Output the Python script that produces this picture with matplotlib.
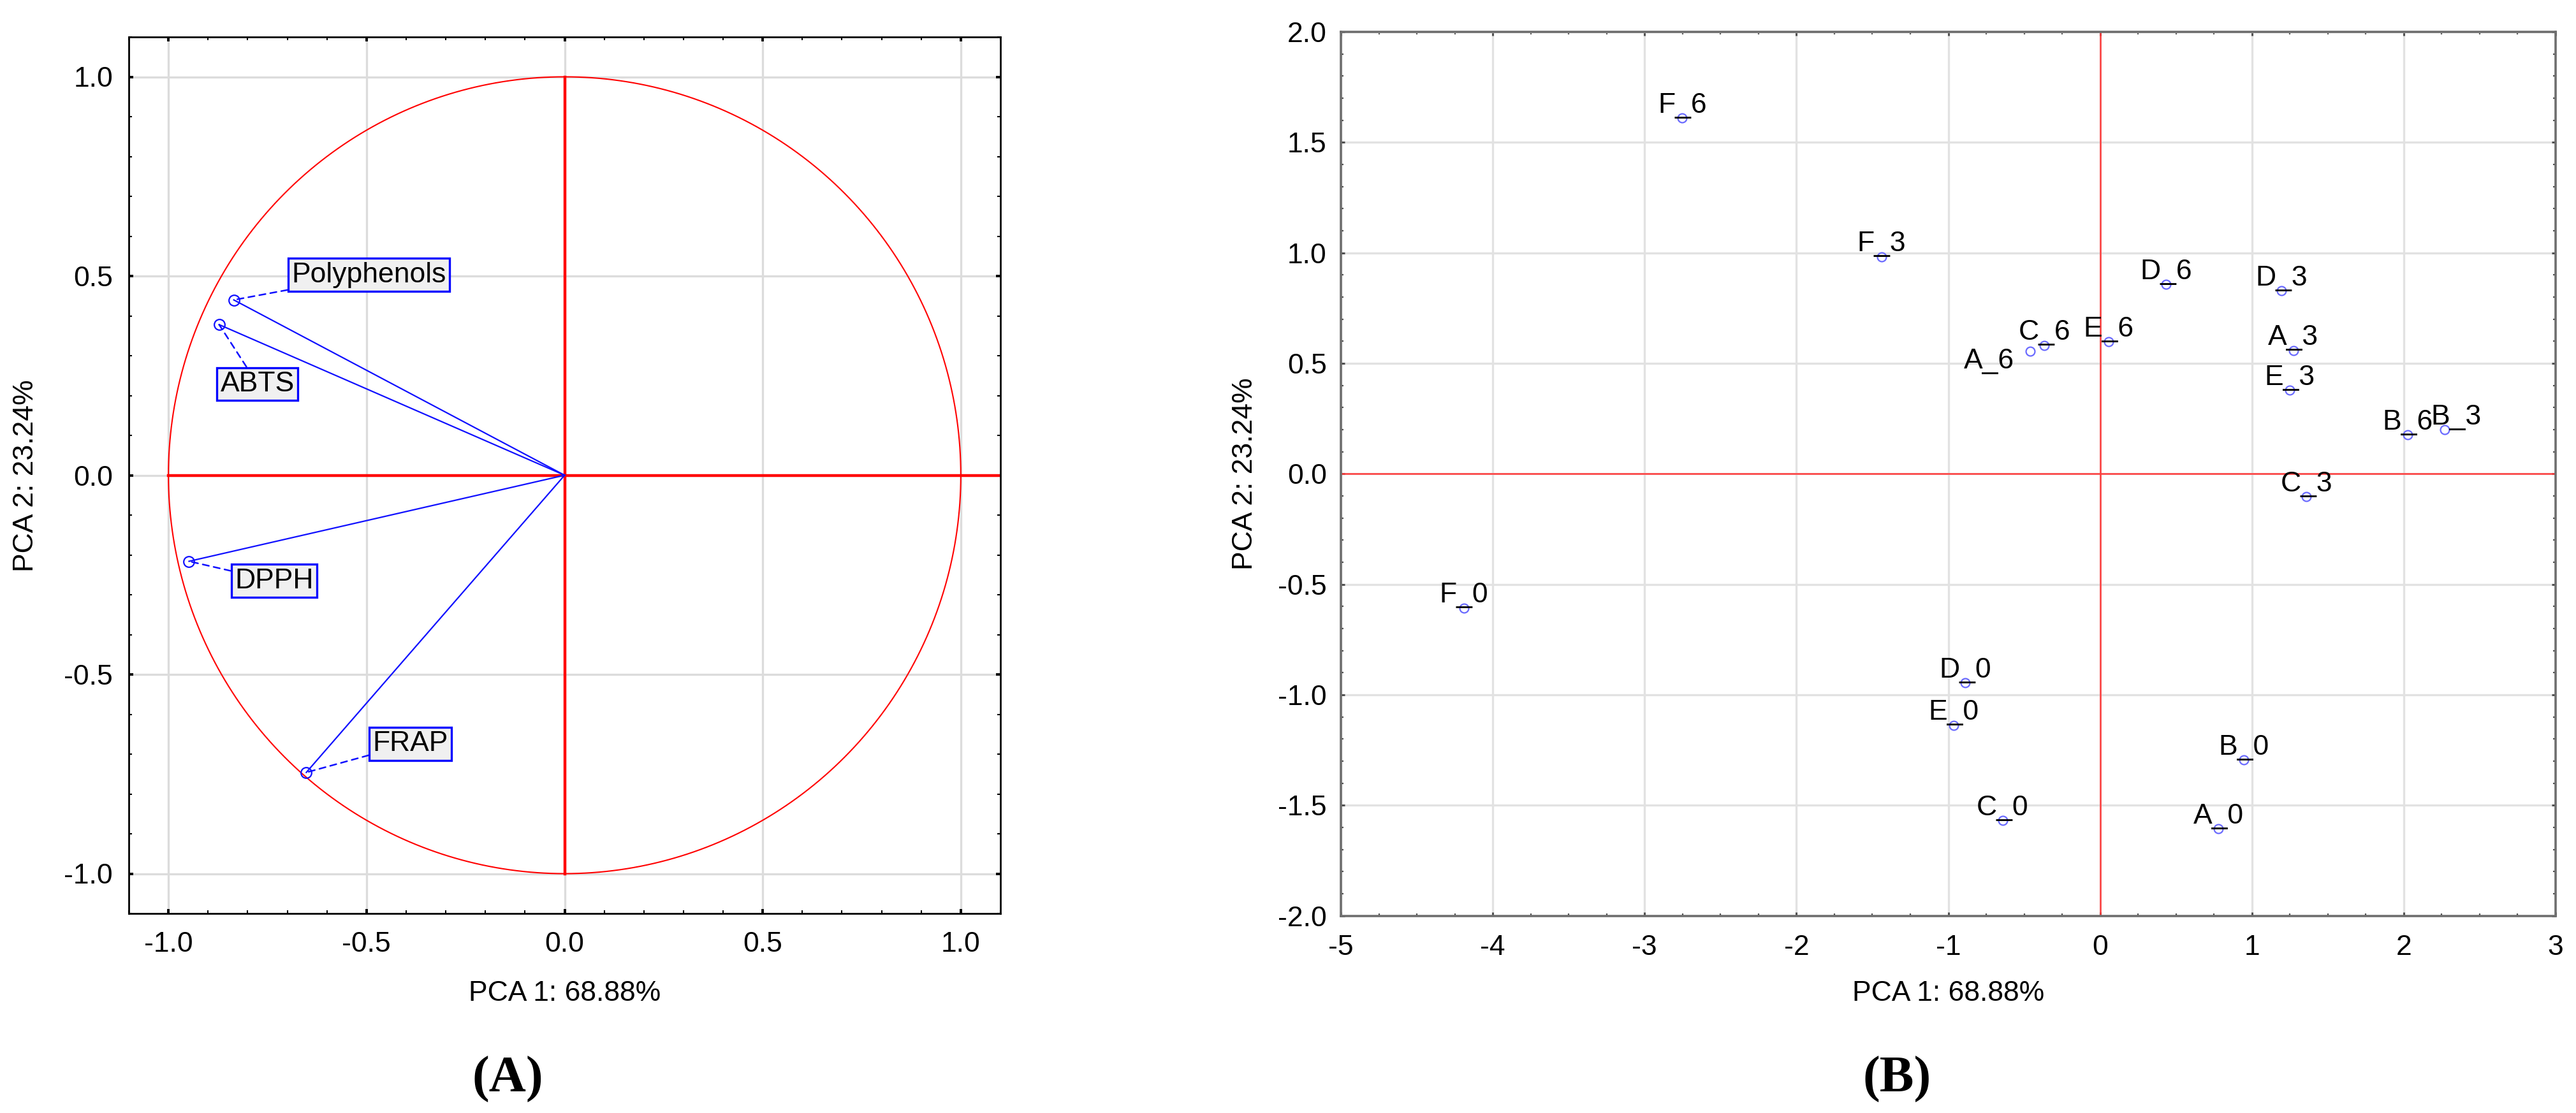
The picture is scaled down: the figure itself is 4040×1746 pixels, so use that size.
import matplotlib
matplotlib.use('Agg')
import matplotlib.pyplot as plt
import numpy as np
from matplotlib.ticker import MultipleLocator, FormatStrFormatter

plt.rcParams['font.family'] = ['Liberation Sans', 'DejaVu Sans']
plt.rcParams['axes.unicode_minus'] = False

# ---------------- data ----------------
# Panel A: variable loadings
variables = ['Polyphenols', 'ABTS', 'DPPH', 'FRAP']
load_pc1 = [-0.835, -0.872, -0.948, -0.652]
load_pc2 = [0.440, 0.378, -0.216, -0.746]

# Panel B: sample scores
samples = ['F_6', 'F_3', 'D_6', 'D_3', 'C_6', 'A_6', 'E_6', 'A_3', 'E_3',
           'B_6', 'B_3', 'C_3', 'F_0', 'D_0', 'E_0', 'B_0', 'C_0', 'A_0']
score_pc1 = [-2.752, -1.439, 0.436, 1.193, -0.367, -0.459, 0.057, 1.273, 1.250,
             2.024, 2.271, 1.359, -4.190, -0.889, -0.963, 0.946, -0.642, 0.780]
score_pc2 = [1.610, 0.983, 0.858, 0.829, 0.582, 0.556, 0.598, 0.559, 0.379,
             0.177, 0.199, -0.103, -0.607, -0.945, -1.138, -1.295, -1.568, -1.607]

xlabel_txt = 'PCA 1: 68.88%'
ylabel_txt = 'PCA 2: 23.24%'

# label placement (layout only)
box_pos = [(-0.494, 0.503), (-0.775, 0.229), (-0.733, -0.265), (-0.389, -0.674)]
label_offsets = {'A_6': (-18, -20, 'right'), 'B_3': (13, 6, 'center')}

W, H = 4040, 1746
fig = plt.figure(figsize=(W / 100, H / 100), dpi=100)

FS = 32

def fx(px):
    return px / W

def fy(py):
    return 1 - py / H

# ---------------- Panel A ----------------
axA = fig.add_axes([fx(202), fy(1433), fx(1569) - fx(202), fy(58) - fy(1433)])
axA.set_xlim(-1.1, 1.1)
axA.set_ylim(-1.1, 1.1)
axA.xaxis.set_major_locator(MultipleLocator(0.5))
axA.yaxis.set_major_locator(MultipleLocator(0.5))
axA.xaxis.set_minor_locator(MultipleLocator(0.1))
axA.yaxis.set_minor_locator(MultipleLocator(0.1))
axA.xaxis.set_major_formatter(FormatStrFormatter('%.1f'))
axA.yaxis.set_major_formatter(FormatStrFormatter('%.1f'))
axA.grid(True, which='major', color='#dcdcdc', lw=2.4, zorder=0)
axA.set_axisbelow(True)
axA.tick_params(which='both', direction='in', top=True, right=True, color='black')
axA.tick_params(which='major', length=5, width=2.8, labelsize=FS)
axA.tick_params(which='minor', length=3.5, width=1.5)
axA.tick_params(axis='x', which='major', pad=20)
axA.tick_params(axis='y', which='major', pad=18)
for s in axA.spines.values():
    s.set_linewidth(2.0)
    s.set_color('black')

th = np.linspace(0, 2 * np.pi, 721)
axA.plot(np.cos(th), np.sin(th), color='#ff0000', lw=1.5, zorder=2)
axA.plot([-1, 1.1], [0, 0], color='#ff0000', lw=3.2, zorder=2)
axA.plot([0, 0], [-1, 1], color='#ff0000', lw=3.2, zorder=2)

for name, x, y, (bx, by) in zip(variables, load_pc1, load_pc2, box_pos):
    axA.plot([0, x], [0, y], color='#1010ff', lw=1.6, zorder=3)
    axA.plot([x], [y], marker='o', mfc='none', mec='#1010ff', ms=12, mew=1.6, zorder=4)
    axA.annotate(name, xy=(x, y), xytext=(bx, by), textcoords='data',
                 ha='center', va='center', fontsize=FS, color='black', zorder=5,
                 bbox=dict(boxstyle='square,pad=0.12', fc='#f0f0f0', ec='#0000ff', lw=2.4),
                 arrowprops=dict(arrowstyle='-', ls=(0, (4, 3)), color='#1010ff', lw=1.8,
                                 shrinkA=0, shrinkB=0))

fig.text(fx(885.5), fy(1559), xlabel_txt, ha='center', va='center', fontsize=FS)
fig.text(fx(41), fy(746), ylabel_txt, ha='center', va='center', rotation=90, fontsize=FS)

# ---------------- Panel B ----------------
axB = fig.add_axes([fx(2103), fy(1436.6), fx(4008) - fx(2103), fy(50) - fy(1436.6)])
axB.set_xlim(-5, 3)
axB.set_ylim(-2, 2)
axB.xaxis.set_major_locator(MultipleLocator(1))
axB.yaxis.set_major_locator(MultipleLocator(0.5))
axB.xaxis.set_minor_locator(MultipleLocator(0.25))
axB.yaxis.set_minor_locator(MultipleLocator(0.1))
axB.xaxis.set_major_formatter(FormatStrFormatter('%d'))
axB.yaxis.set_major_formatter(FormatStrFormatter('%.1f'))
axB.grid(True, which='major', color='#e2e2e2', lw=2.4, zorder=0)
axB.set_axisbelow(True)
axB.tick_params(which='both', direction='in', top=True, right=True, color='#505050')
axB.tick_params(which='major', length=4, width=2.2, labelsize=FS)
axB.tick_params(which='minor', length=3, width=1.6)
axB.tick_params(axis='x', which='major', pad=21)
axB.tick_params(axis='y', which='major', pad=16)
for s in axB.spines.values():
    s.set_linewidth(2.6)
    s.set_color('#6e6e6e')

axB.axhline(0, color='#ff3b3b', lw=1.8, zorder=2)
axB.axvline(0, color='#ff3b3b', lw=1.8, zorder=2)

axB.plot(score_pc1, score_pc2, ls='none', marker='o', mfc='none', mec='#6a6aff',
         ms=10, mew=1.6, zorder=4)
for name, x, y in zip(samples, score_pc1, score_pc2):
    dx, dy, ha = label_offsets.get(name, (0, 6, 'center'))
    axB.annotate(name, xy=(x, y), xytext=(dx, dy), textcoords='offset points',
                 ha=ha, va='baseline', fontsize=FS, zorder=5)

fig.text(fx(3056), fy(1559), xlabel_txt, ha='center', va='center', fontsize=FS)
fig.text(fx(1952), fy(743), ylabel_txt, ha='center', va='center', rotation=90, fontsize=FS)

# ---------------- sub-captions ----------------
fig.text(fx(796), fy(1693), '(A)', ha='center', va='center', fontsize=58,
         family='Liberation Serif', fontweight='bold')
fig.text(fx(2975), fy(1693), '(B)', ha='center', va='center', fontsize=58,
         family='Liberation Serif', fontweight='bold')

fig.savefig('out.png', dpi=100, facecolor='white')
